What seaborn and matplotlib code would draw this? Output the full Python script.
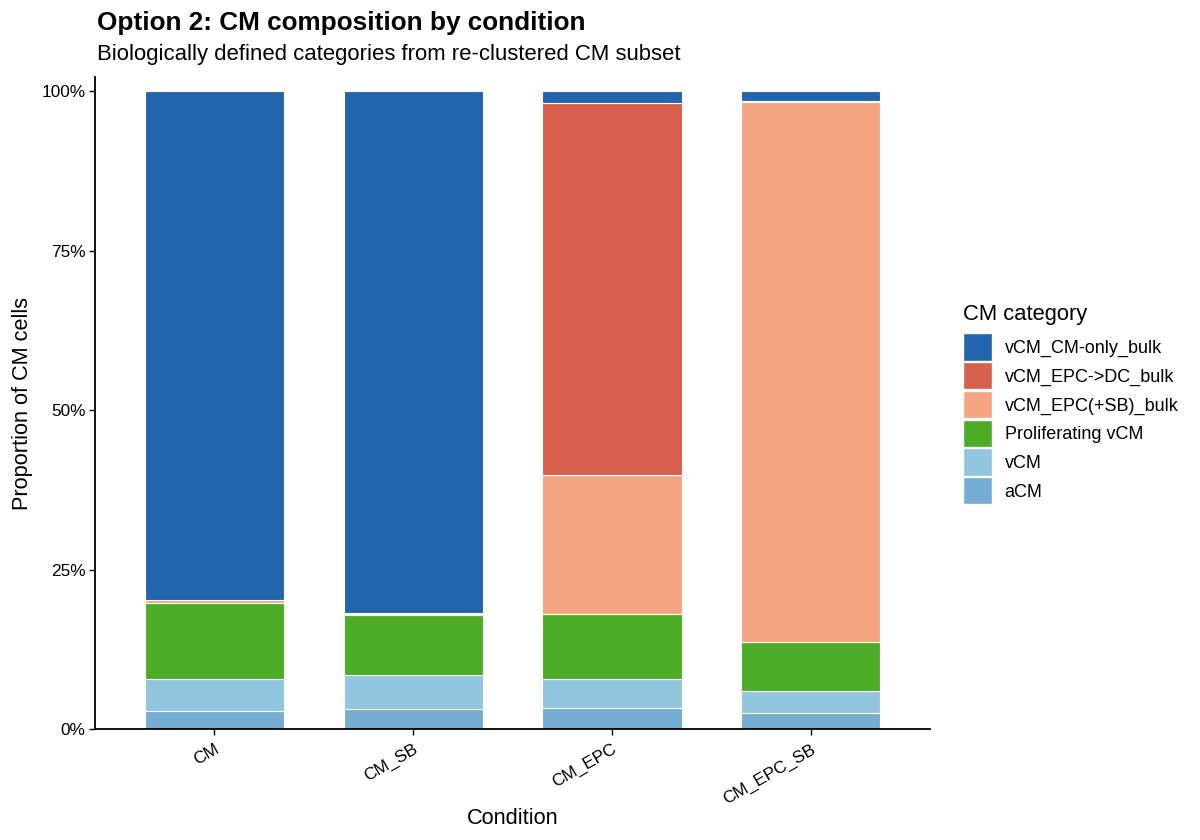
import numpy as np
import pandas as pd
import matplotlib
matplotlib.use("Agg")
import matplotlib.pyplot as plt
from matplotlib.patches import Patch
import seaborn as sns

conditions = ["CM", "CM_SB", "CM_EPC", "CM_EPC_SB"]
categories = ["aCM", "vCM", "Proliferating vCM", "vCM_EPC(+SB)_bulk",
              "vCM_EPC->DC_bulk", "vCM_CM-only_bulk"]
aCM = [2.9, 3.1, 3.35, 2.55]
vCM = [5.0, 5.3, 4.45, 3.35]
prolif = [11.85, 9.4, 10.3, 7.7]
epc_sb = [0.45, 0.3, 21.7, 84.7]
epc_dc = [0.05, 0.05, 58.3, 0.2]
cm_only = [79.75, 81.85, 1.9, 1.5]
colors = ["#74ADD1", "#92C5DE", "#4DAC26", "#F4A582", "#D6604D", "#2166AC"]

series = [aCM, vCM, prolif, epc_sb, epc_dc, cm_only]

sns.set_theme(style="ticks")
plt.rcParams['font.family'] = ['Liberation Sans', 'DejaVu Sans']
plt.rcParams['text.color'] = 'black'
plt.rcParams['axes.labelcolor'] = 'black'
plt.rcParams['xtick.color'] = 'black'
plt.rcParams['ytick.color'] = 'black'

fig = plt.figure(figsize=(12, 8.4), dpi=100)
ax = fig.add_axes([0.0792, 0.1321, 0.6958, 0.7762])

bottom = np.zeros(len(conditions))
for cat, vals, col in zip(categories, series, colors):
    v = np.array(vals) / 100.0
    df = pd.DataFrame({"Condition": conditions, "val": v})
    sns.barplot(data=df, x="Condition", y="val", bottom=bottom, color=col,
                width=0.7, edgecolor="white", linewidth=0.8, saturation=1,
                ax=ax, order=conditions)
    bottom = bottom + v

ax.set_xlim(-0.6, 3.6)
ax.set_ylim(0, 1.022)
ax.set_yticks([0, 0.25, 0.5, 0.75, 1.0])
ax.set_yticklabels(["0%", "25%", "50%", "75%", "100%"], fontsize=12.4)
ax.set_xticks(range(len(conditions)))
ax.set_xticklabels(conditions, rotation=30, ha="right", rotation_mode="anchor",
                   fontsize=12.4)
ax.tick_params(axis="both", length=4, width=1.0, color="black")
ax.tick_params(axis="x", pad=5)
ax.tick_params(axis="y", pad=3)
for s in ["top", "right"]:
    ax.spines[s].set_visible(False)
for s in ["left", "bottom"]:
    ax.spines[s].set_linewidth(1.3)
    ax.spines[s].set_color("black")
ax.set_xlabel("Condition", fontsize=15.7, labelpad=1)
ax.set_ylabel("Proportion of CM cells", fontsize=15.7, labelpad=6)

fig.text(0.081, 0.964, "Option 2: CM composition by condition", fontsize=18.8,
         fontweight="bold", va="baseline", ha="left")
fig.text(0.081, 0.929, "Biologically defined categories from re-clustered CM subset",
         fontsize=15.9, va="baseline", ha="left")

handles = [Patch(facecolor=c, edgecolor="white", label=l)
           for c, l in zip(colors[::-1], categories[::-1])]
leg = fig.legend(handles=handles, title="CM category", loc="upper left",
                 bbox_to_anchor=(0.8025, 0.638), frameon=False, fontsize=13,
                 title_fontsize=15.8, handlelength=1.6, handleheight=1.95,
                 labelspacing=0.08, handletextpad=0.7, borderaxespad=0,
                 borderpad=0)
leg._legend_box.align = "left"
leg._legend_box.sep = 6

fig.savefig("out.png", dpi=100)
